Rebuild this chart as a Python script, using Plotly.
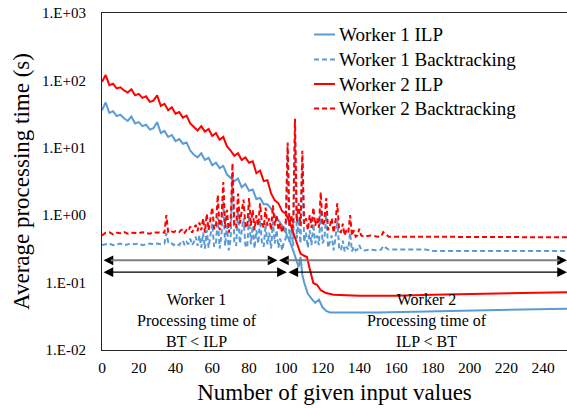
import math
import plotly.graph_objects as go

# ---------------- data ----------------
ilp_grid = list(range(0, 101, 2))

w1_ilp_x = ilp_grid + [102, 104, 106, 107, 108, 109, 110, 112, 114, 116, 118, 120, 122, 124,
                       130, 150, 170, 190, 210, 230, 253]
w1_ilp_y = [36, 47, 33, 35, 29.5, 31, 27.5, 25, 29, 23, 24, 21, 22, 18.6, 19.5, 24, 16.6, 17.8,
            14.5, 15.5, 12.6, 13.5, 11.5, 12, 9.1, 7.9, 7.2, 8.3, 6.6, 7.1, 5.5, 6.0, 5.0, 5.4,
            4.0, 3.6, 3.2, 3.5, 2.6, 2.9, 2.3, 2.4, 1.74, 1.8, 1.45, 1.45, 1.25, 1.0, 0.85, 0.7, 0.55,
            0.42, 0.3, 0.2, 0.17, 0.24, 0.13, 0.1, 0.068, 0.058, 0.05, 0.056, 0.043, 0.038, 0.036,
            0.036, 0.036, 0.037, 0.038, 0.039, 0.040, 0.041]

w2_ilp_x = ilp_grid + [102, 104, 106, 108, 110, 111.5, 113, 115, 117, 119, 122, 126,
                       140, 160, 180, 200, 220, 240, 253]
w2_ilp_y = [95, 120, 85, 89, 76, 79, 71, 66, 74, 60, 63, 55, 58, 48, 50, 60, 42, 45, 36, 40,
            32, 34, 28, 30, 23, 20, 18, 21, 17.4, 19, 15, 16.6, 13.2, 14.5, 10.5, 9.1, 7.6, 8.3,
            6.6, 7.2, 6.0, 6.3, 4.2, 4.6, 3.2, 3.3, 2.1, 1.66, 1.5, 1.15, 1.05,
            0.8, 0.55, 0.38, 0.27, 0.25, 0.24, 0.16, 0.098, 0.093, 0.077, 0.07, 0.066,
            0.064, 0.064, 0.066, 0.068, 0.069, 0.071, 0.072]

bt_x = (list(range(0, 35, 2)) + list(range(35, 142)) +
        [143, 146, 150, 152, 153, 156, 165, 176, 180, 200, 220, 240, 253])

w1_bt_y = ([0.36, 0.37, 0.38, 0.36, 0.37, 0.38, 0.36, 0.37, 0.38, 0.37, 0.38, 0.36, 0.37, 0.38,
            0.37, 0.38, 0.37, 0.38] +
           [0.54, 0.4, 0.37, 0.38, 0.36, 0.38, 0.37, 0.36, 0.4, 0.42,
            0.36, 0.4, 0.37, 0.45, 0.36, 0.4, 0.48, 0.35, 0.5, 0.33,
            0.55, 0.32, 0.6, 0.33, 0.5, 0.75, 0.34, 0.38, 0.93, 0.32,
            0.5, 1.6, 0.35, 0.7, 0.3, 0.45, 4.2, 0.4, 0.35, 1.2,
            0.38, 0.65, 0.9, 0.36, 0.33, 1.0, 0.37, 0.7, 0.32, 0.6,
            0.38, 0.85, 0.4, 0.34, 0.75, 0.37, 0.55, 0.32, 0.8, 0.38,
            0.6, 0.33, 0.45, 0.3, 0.4, 0.45, 9, 0.4, 0.6, 0.35,
            16, 0.45, 0.9, 0.38, 6, 0.4, 0.55, 0.33, 0.6, 0.36,
            0.75, 0.38, 0.5, 0.36, 1.2, 0.38, 0.45, 1.0, 0.33, 0.4,
            0.5, 0.3, 0.45, 0.85, 0.33, 0.3, 0.42, 0.29, 0.34, 0.31,
            0.55, 0.29, 0.34, 0.3, 0.31, 0.36, 0.31] +
           [0.3, 0.31, 0.3, 0.31, 0.35, 0.31, 0.31, 0.31, 0.295, 0.295, 0.295, 0.295, 0.295])

w2_bt_y = ([0.50, 0.55, 0.56, 0.52, 0.55, 0.54, 0.56, 0.53, 0.55, 0.55, 0.54, 0.56, 0.55, 0.53,
            0.56, 0.55, 0.56, 0.55] +
           [1.0, 0.56, 0.55, 0.57, 0.56, 0.58, 0.57, 0.56, 0.6, 0.62,
            0.55, 0.6, 0.58, 0.68, 0.55, 0.62, 0.72, 0.58, 0.78, 0.6,
            0.9, 0.55, 1.05, 0.6, 0.85, 1.3, 0.62, 0.7, 2.0, 0.6,
            0.9, 3.1, 0.65, 1.2, 0.55, 0.8, 5.9, 0.7, 0.65, 2.1,
            0.75, 1.1, 1.7, 0.7, 0.65, 1.8, 0.7, 1.2, 0.6, 1.0,
            0.7, 1.5, 0.75, 0.65, 1.3, 0.7, 0.9, 0.6, 1.4, 0.7,
            1.0, 0.6, 0.75, 0.55, 0.7, 0.8, 12, 0.7, 1.0, 0.65,
            27, 0.8, 1.5, 0.7, 9, 0.75, 0.9, 0.6, 1.0, 0.65,
            1.3, 0.7, 0.9, 0.65, 2.2, 0.7, 0.8, 1.8, 0.6, 0.7,
            0.9, 0.55, 0.8, 1.5, 0.6, 0.55, 0.75, 0.5, 0.6, 0.55,
            1.0, 0.5, 0.6, 0.48, 0.5, 0.63, 0.5] +
           [0.48, 0.5, 0.48, 0.49, 0.56, 0.48, 0.48, 0.48, 0.47, 0.47, 0.47, 0.47, 0.47])

series_names = ["Worker 1 ILP", "Worker 1 Backtracking", "Worker 2 ILP", "Worker 2 Backtracking"]
y_tick_vals = [0.01, 0.1, 1, 10, 100, 1000]
y_tick_text = ["1.E-02", "1.E-01", "1.E+00", "1.E+01", "1.E+02", "1.E+03"]

# crossover points and annotation levels
cross_w1 = 95.5
cross_w2 = 100.6
x_max = 253
arrow_y_w1 = 0.214
arrow_y_w2 = 0.143

BLUE = "#5B9BD5"
RED = "#FF0000"
FONT = "Liberation Serif"
DASH = "5px,3px"
series_styles = [(BLUE, "solid"), (BLUE, DASH), (RED, "solid"), (RED, DASH)]

# plot-area geometry in pixels (for legend placement)
W, H = 567, 408
ML, MR, MT, MB = 102, 0, 13, 58
PW, PH = W - ML - MR, H - MT - MB


def px_x(px):
    return (px - ML) / PW


def px_y(py):
    return 1 - (py - MT) / PH


fig = go.Figure()
for (xs, ys), name, (col, dash) in zip([(w1_ilp_x, w1_ilp_y), (bt_x, w1_bt_y), (w2_ilp_x, w2_ilp_y), (bt_x, w2_bt_y)],
                                       series_names, series_styles):
    fig.add_trace(go.Scatter(x=xs, y=ys, mode="lines", name=name, showlegend=False,
                             line=dict(color=col, width=2, dash=dash)))

L = math.log10
shapes = [
    dict(type="line", xref="paper", x0=0, x1=1, yref="y", y0=0, y1=0,
         line=dict(color="#D9D9D9", width=1), layer="below"),
    dict(type="line", xref="x", x0=cross_w1, x1=cross_w1, yref="y", y0=L(0.235), y1=-2,
         line=dict(color="#000000", width=1.2, dash="3px,2px")),
    dict(type="line", xref="x", x0=cross_w2, x1=cross_w2, yref="y", y0=L(0.2), y1=-2,
         line=dict(color="#7F7F7F", width=1.2, dash="3px,2px")),
]

annotations = []
segments = [(0, cross_w1, arrow_y_w1), (cross_w1, x_max, arrow_y_w1),
            (0, cross_w2, arrow_y_w2), (cross_w2, x_max, arrow_y_w2)]
for (xa, xb, yv) in segments:
    annotations.append(dict(x=xb, y=L(yv), ax=xa, ay=L(yv), xref="x", yref="y", axref="x", ayref="y",
                            text="", showarrow=True, arrowhead=2, startarrowhead=2, arrowside="end+start",
                            arrowsize=1.5, startarrowsize=1.5, arrowwidth=1.3, arrowcolor="#000000",
                            standoff=0, startstandoff=0))
for (xa, xb, yv) in segments[:2]:
    annotations.append(dict(x=xb - 4, y=L(yv), ax=xa + 4, ay=L(yv), xref="x", yref="y", axref="x", ayref="y",
                            text="", showarrow=True, arrowhead=0, arrowwidth=1.6, arrowcolor="#808080",
                            standoff=0, startstandoff=0))

annotations.append(dict(x=51.8, y=-1.56, xref="x", yref="y", showarrow=False,
                        text="Worker 1<br>Processing time of<br>BT &lt; ILP",
                        font=dict(family=FONT, size=16, color="#000000"), align="center"))
annotations.append(dict(x=176.6, y=-1.56, xref="x", yref="y", showarrow=False,
                        text="Worker 2<br>Processing time of<br>ILP &lt; BT",
                        font=dict(family=FONT, size=16, color="#000000"), align="center"))

# hand-placed legend (Excel-like spacing)
legend_rows_px = [34.5, 59.5, 84, 108.5]
for name, (col, dash), py in zip(series_names, series_styles, legend_rows_px):
    shapes.append(dict(type="line", xref="paper", yref="paper", x0=px_x(314), x1=px_x(335),
                       y0=px_y(py), y1=px_y(py), line=dict(color=col, width=2, dash=dash)))
    annotations.append(dict(x=px_x(337), y=px_y(py), xref="paper", yref="paper", xanchor="left",
                            yanchor="middle", showarrow=False, text=name,
                            font=dict(family=FONT, size=19, color="#000000")))

fig.update_layout(
    width=W, height=H,
    margin=dict(l=ML, r=MR, t=MT, b=MB),
    paper_bgcolor="white", plot_bgcolor="white",
    font=dict(family=FONT, color="#000000"),
    showlegend=False,
    shapes=shapes,
    annotations=annotations,
)
fig.update_xaxes(range=[0, x_max], tick0=0, dtick=20, showgrid=False, zeroline=False, automargin=False,
                 showline=True, linecolor="#262626", linewidth=1.2, mirror=True, ticks="",
                 ticklabelstandoff=3, tickfont=dict(family=FONT, size=15.5, color="#000000"),
                 title=dict(text="Number of given input values", standoff=9,
                            font=dict(family=FONT, size=23, color="#000000")))
fig.update_yaxes(type="log", range=[-2, 3], tickvals=y_tick_vals, ticktext=y_tick_text, automargin=False,
                 showgrid=False, zeroline=False, showline=True, linecolor="#262626", linewidth=1.2,
                 mirror=False, ticks="", ticklabelstandoff=12,
                 tickfont=dict(family=FONT, size=15, color="#000000"),
                 title=dict(text="Average processing time (s)", standoff=5,
                            font=dict(family=FONT, size=23, color="#000000")))

fig.write_html("out.html", config={"displayModeBar": False},
               post_script="document.body.style.margin='0';document.body.style.overflow='hidden';")
